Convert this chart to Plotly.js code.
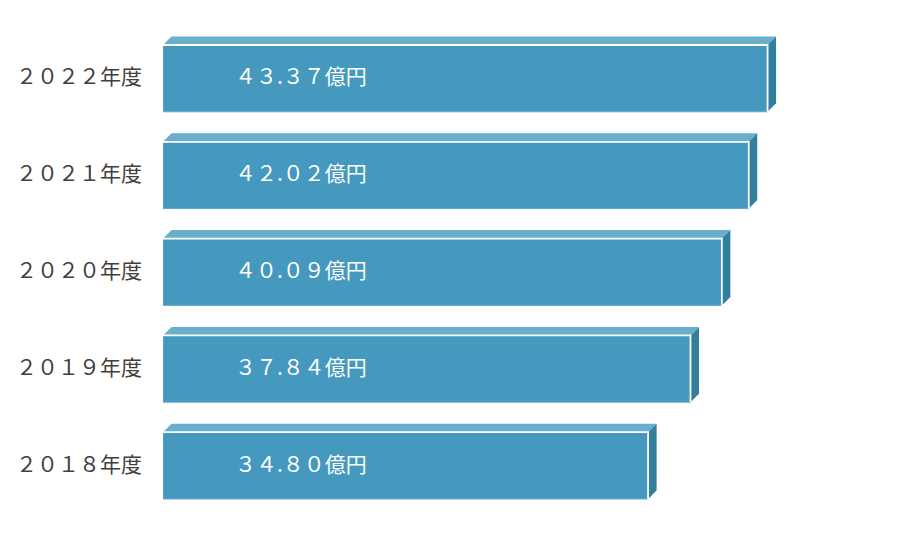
<!DOCTYPE html>
<html>
<head>
<meta charset="utf-8">
<script src="https://cdn.plot.ly/plotly-3.0.1.min.js"></script>
<style>
  html, body { margin: 0; padding: 0; background: #fff; }
  #chart { width: 900px; height: 536px; }
</style>
</head>
<body>
<div id="chart"></div>
<script>
// bottom to top
var years = ['2018年度', '2019年度', '2020年度', '2021年度', '2022年度']
var amounts = [34.80, 37.84, 40.09, 42.02, 43.37]
var unit = '億円'

// the source uses wide digits
function wide(s) {
    return s.replace(/[0-9]/g, function(c) {
        return String.fromCharCode(c.charCodeAt(0) + 0xFEE0)
    })
}

var W = 900, H = 536
var m = {l: 163, r: 40, t: 30, b: 22}
var xMax = 50
var barW = 0.69
var depth = 8.5 // px
var font = '"Noto Sans CJK JP", sans-serif'

var pos = years.map(function(y, i) { return i })
var pxX = (W - m.l - m.r) / xMax
var pxY = (H - m.t - m.b) / years.length
var dx = depth / pxX
var dy = depth / pxY

var shapes = []
var annotations = []
amounts.forEach(function(v, i) {
    var top = i + barW / 2, bot = i - barW / 2
    // top face
    shapes.push({
        type: 'path', xref: 'x', yref: 'y',
        path: 'M0,' + top + ' L' + dx + ',' + (top + dy) + ' L' + (v + dx) + ',' + (top + dy) + ' L' + v + ',' + top + ' Z',
        fillcolor: '#6aaecd', line: {width: 0}
    })
    // side face
    shapes.push({
        type: 'path', xref: 'x', yref: 'y',
        path: 'M' + v + ',' + top + ' L' + (v + dx) + ',' + (top + dy) + ' L' + (v + dx) + ',' + (bot + dy) + ' L' + v + ',' + bot + ' Z',
        fillcolor: '#317f9d', line: {width: 0}
    })
    // white highlight along the front edge
    shapes.push({
        type: 'path', xref: 'x', yref: 'y',
        path: 'M0,' + top + ' L' + v + ',' + top + ' L' + v + ',' + bot,
        line: {color: '#ffffff', width: 1.8}
    })
    annotations.push({
        x: 5.05, y: pos[i], xref: 'x', yref: 'y', yshift: 3,
        xanchor: 'left', yanchor: 'middle', showarrow: false,
        text: wide(v.toFixed(2)) + unit,
        font: {family: font, size: 21, color: '#ffffff'}
    })
    // category label
    annotations.push({
        x: 0, y: pos[i], xref: 'x', yref: 'y', xshift: -19, yshift: 3,
        xanchor: 'right', yanchor: 'middle', showarrow: false,
        text: wide(years[i]),
        font: {family: font, size: 21, color: '#404040'}
    })
})

var data = [{
    type: 'bar',
    orientation: 'h',
    x: amounts,
    y: pos,
    width: barW,
    marker: {color: '#4599bf', line: {color: '#63acd0', width: 1}},
    hoverinfo: 'none'
}]

var layout = {
    width: W, height: H,
    margin: m,
    paper_bgcolor: '#ffffff',
    plot_bgcolor: '#ffffff',
    showlegend: false,
    xaxis: {range: [0, xMax], visible: false, fixedrange: true},
    yaxis: {
        range: [-0.5, years.length - 0.5],
        showticklabels: false, ticks: '',
        showgrid: false, zeroline: false, showline: false,
        fixedrange: true
    },
    shapes: shapes,
    annotations: annotations
}

Plotly.newPlot('chart', data, layout, {displayModeBar: false, staticPlot: true})
</script>
</body>
</html>
